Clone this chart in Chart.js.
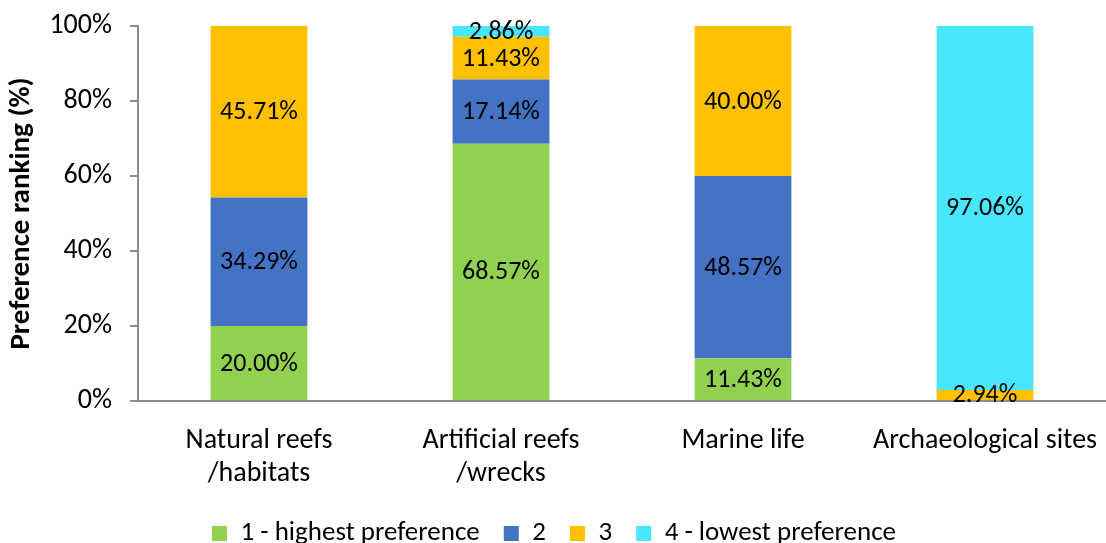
<!DOCTYPE html>
<html>
<head>
<meta charset="utf-8">
<script src="https://cdn.jsdelivr.net/npm/chart.js@4"></script>
<style>
  html, body { margin: 0; padding: 0; background: #fff; overflow: hidden; }
  #wrap { width: 1106px; height: 557px; }
</style>
</head>
<body>
<div id="wrap"><canvas id="c" width="1106" height="557"></canvas></div>
<script>
const categories = [["Natural reefs", "/habitats"], ["Artificial reefs", "/wrecks"], "Marine life", "Archaeological sites"];
const seriesNames = ["1 - highest preference", "2", "3", "4 - lowest preference"];
const rank1 = [20.00, 68.57, 11.43, 0];
const rank2 = [34.29, 17.14, 48.57, 0];
const rank3 = [45.71, 11.43, 40.00, 2.94];
const rank4 = [0, 2.86, 0, 97.06];
const seriesColors = ["#92D050", "#4472C4", "#FFC000", "#48E7FF"];
const yTicks = [0, 20, 40, 60, 80, 100];

const FONT = "Carlito, Calibri, Lato, sans-serif";

// Writes each segment's percentage in the middle of its bar piece
const segmentLabels = {
  id: 'segmentLabels',
  afterDatasetsDraw(chart) {
    const ctx = chart.ctx;
    ctx.save();
    ctx.font = "26px " + FONT;
    ctx.fillStyle = "#000";
    ctx.textAlign = "center";
    ctx.textBaseline = "middle";
    chart.data.datasets.forEach((ds, i) => {
      const meta = chart.getDatasetMeta(i);
      meta.data.forEach((bar, j) => {
        const v = ds.data[j];
        if (!v) return;
        const cy = (bar.y + bar.base) / 2;
        ctx.fillText(v.toFixed(2) + "%", bar.x, cy + 1);
      });
    });
    ctx.restore();
  }
};

const datasets = [rank1, rank2, rank3, rank4].map((vals, i) => ({
  label: seriesNames[i],
  data: vals,
  backgroundColor: seriesColors[i],
  borderWidth: 0,
  barPercentage: 1,
  categoryPercentage: 0.4
}));

new Chart(document.getElementById('c'), {
  type: 'bar',
  data: { labels: categories, datasets },
  options: {
    responsive: false,
    animation: false,
    layout: { padding: { top: 26, right: 0, left: 2, bottom: 0 } },
    plugins: {
      legend: {
        position: 'bottom',
        labels: {
          font: { family: FONT, size: 27 },
          color: '#000',
          boxWidth: 15,
          boxHeight: 15,
          padding: 24
        }
      },
      tooltip: { enabled: false }
    },
    scales: {
      x: {
        stacked: true,
        grid: { drawOnChartArea: false, drawTicks: false },
        border: { color: '#8c8c8c', width: 2 },
        afterFit(scale) { scale.height = 95; scale.paddingLeft = 0; scale.paddingRight = 0; },
        ticks: {
          font: { family: FONT, size: 28 },
          color: '#000',
          padding: 23,
          maxRotation: 0
        }
      },
      y: {
        stacked: true,
        min: 0,
        max: 100,
        afterBuildTicks(axis) { axis.ticks = yTicks.map(v => ({ value: v })); },
        afterFit(scale) { scale.width = 136; scale.paddingTop = 0; scale.paddingBottom = 0; },
        grid: { drawOnChartArea: false, drawTicks: true, tickLength: 8, color: '#8c8c8c', lineWidth: 2 },
        border: { color: '#8c8c8c', width: 2 },
        ticks: {
          font: { family: FONT, size: 28 },
          color: '#000',
          padding: 18,
          callback: v => v + '%'
        },
        title: {
          display: true,
          text: 'Preference ranking (%)',
          font: { family: FONT, size: 29, weight: 'bold' },
          color: '#000',
          padding: { top: 2, bottom: 2 }
        }
      }
    }
  },
  plugins: [segmentLabels]
});
</script>
</body>
</html>
